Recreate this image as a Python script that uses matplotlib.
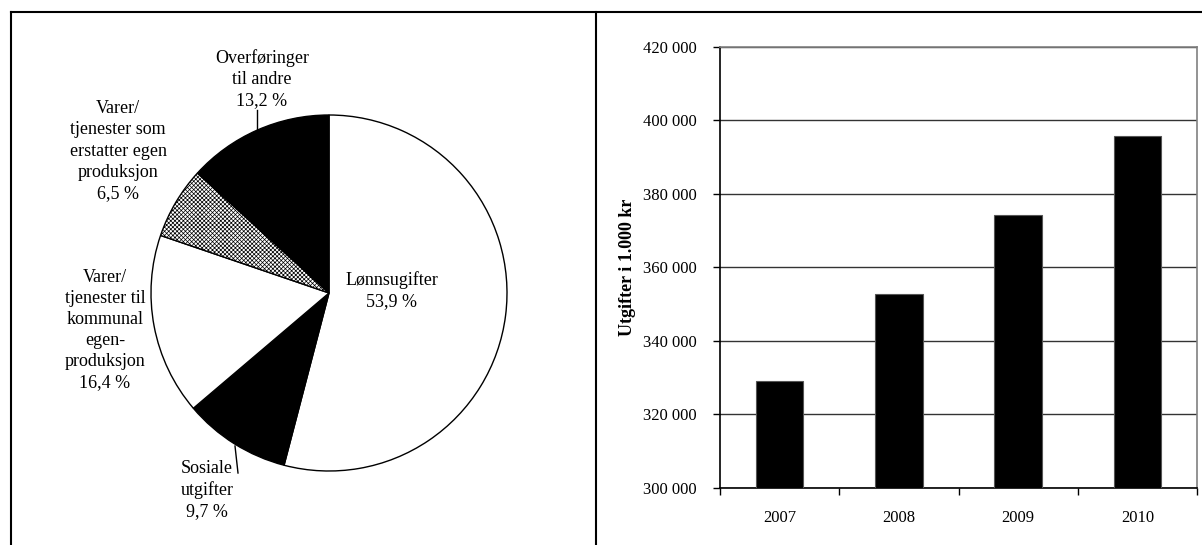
import matplotlib.pyplot as plt
from matplotlib.lines import Line2D
from matplotlib.ticker import FixedLocator, FuncFormatter

plt.rcParams['font.family'] = ['Liberation Serif', 'DejaVu Serif']
plt.rcParams['hatch.linewidth'] = 0.5

# Fordeling av utgifter (prosent)
kategorier = ['Lønnsugifter', 'Sosiale\nutgifter', 'Varer/\ntjenester til\nkommunal\negen-\nproduksjon',
              'Varer/\ntjenester som\nerstatter egen\nproduksjon', 'Overføringer\ntil andre']
andeler = [53.9, 9.7, 16.4, 6.5, 13.2]

# Utgifter i 1.000 kr per år
aar = ['2007', '2008', '2009', '2010']
utgifter = [329200, 352700, 374200, 395800]

W, H = 1202, 545
fig = plt.figure(figsize=(W / 100, H / 100), dpi=100)

# rammer rundt de to delene
for (x0, y0, x1, y1) in [(11, 12, W, 12), (11, 12, 11, H), (596, 12, 596, H)]:
    fig.add_artist(Line2D([x0 / W, x1 / W], [1 - y0 / H, 1 - y1 / H],
                          color='black', lw=1.5, transform=fig.transFigure))

# --- kakediagram ---
cx, cy, r = 329, 293, 178
ax1 = fig.add_axes([(cx - r) / W, (H - cy - r) / H, 2 * r / W, 2 * r / H])
farger = ['white', 'black', 'white', 'white', 'black']
kiler, _ = ax1.pie(andeler, colors=farger, startangle=90, counterclock=False,
                   wedgeprops=dict(edgecolor='black', linewidth=1.0))
kiler[3].set_hatch('xxxxxxxx')
ax1.set_xlim(-1, 1)
ax1.set_ylim(-1, 1)
ax1.axis('off')

def px(x, y):
    return (x - cx) / r, (cy - y) / r

etikett_pos = [(392, 291), (207, 490), (105, 330), (118, 151), (262, 79)]
for navn, verdi, (x, y) in zip(kategorier, andeler, etikett_pos):
    tekst = navn + '\n' + f'{verdi:.1f}'.replace('.', ',') + ' %'
    ax1.text(*px(x, y), tekst, ha='center', va='center', fontsize=13,
             linespacing=1.32)

# streker fra etikett til kile
for (x0, y0, x1, y1) in [(257, 110, 257, 131), (235, 446, 238, 473)]:
    p0, p1 = px(x0, y0), px(x1, y1)
    ax1.plot([p0[0], p1[0]], [p0[1], p1[1]], color='black', lw=1.0, clip_on=False)

# --- stolpediagram ---
left, right, top, bottom = 720, 1197, 47, 488
ax2 = fig.add_axes([left / W, (H - bottom) / H, (right - left) / W, (bottom - top) / H])
pos = list(range(len(aar)))
ax2.bar(pos, utgifter, width=0.4, color='black', edgecolor='#555555', linewidth=0.8, zorder=3)
ax2.set_xlim(-0.5, len(aar) - 0.5)
ax2.set_ylim(300000, 420000)
ax2.set_yticks(range(300000, 420001, 20000))
ax2.yaxis.set_major_formatter(FuncFormatter(lambda v, p: f'{int(v):,}'.replace(',', ' ')))
ax2.grid(axis='y', color='#333333', lw=1.0, zorder=0)
ax2.set_axisbelow(True)

ax2.set_xticks(pos)
ax2.set_xticklabels(aar)
ax2.xaxis.set_minor_locator(FixedLocator([p - 0.5 for p in range(len(aar) + 1)]))
ax2.tick_params(axis='x', which='major', length=0, pad=16, labelsize=12)
ax2.tick_params(axis='x', which='minor', length=5, width=1, direction='out')
ax2.tick_params(axis='y', length=5, width=1, direction='out', pad=12, labelsize=12)

ax2.spines['left'].set_color('black')
ax2.spines['bottom'].set_color('black')
ax2.spines['top'].set_color('#808080')
ax2.spines['right'].set_color('#808080')
for s in ax2.spines.values():
    s.set_linewidth(1.2)

ax2.set_ylabel('Utgifter i 1.000 kr', fontsize=13, fontweight='bold', labelpad=5)

fig.savefig('out.png', dpi=100)
